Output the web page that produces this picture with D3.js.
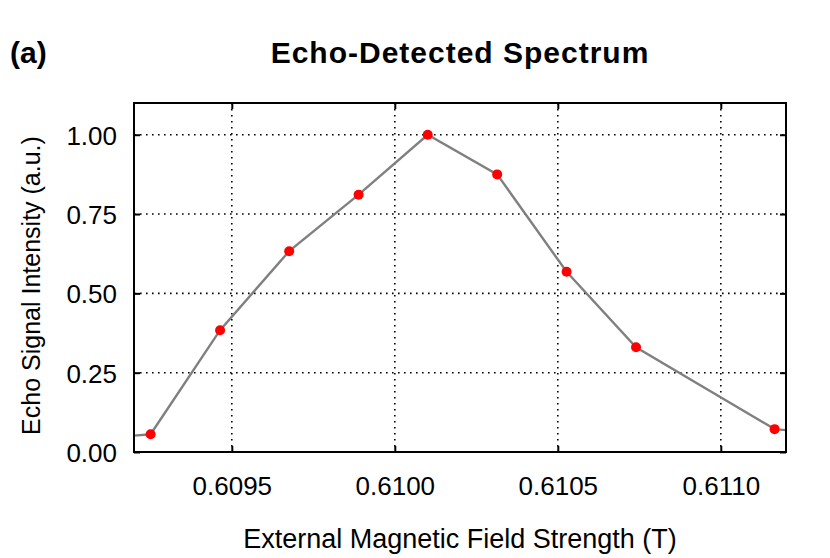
<!DOCTYPE html>
<html><head><meta charset="utf-8">
<script src="https://cdn.jsdelivr.net/npm/d3@7"></script>
<style>
body{margin:0;background:#fff;}
text{font-family:"Liberation Sans", Arial, sans-serif;fill:#000;}
</style></head>
<body>
<svg id="c" width="830" height="558"></svg>
<script>
// Data
const fieldT = [0.609038, 0.609251, 0.609464, 0.609676, 0.609889, 0.610101, 0.610314, 0.610527, 0.610740, 0.611165, 0.611378];
const intensity = [0.038, 0.056, 0.384, 0.633, 0.811, 1.000, 0.875, 0.568, 0.330, 0.072, 0.054];
const markerShown = [false, true, true, true, true, true, true, true, true, true, false];
const xTicks = [0.6095, 0.6100, 0.6105, 0.6110];
const yTicks = [0.00, 0.25, 0.50, 0.75, 1.00];
const xDomain = [0.6092, 0.6112];
const yDomain = [0, 1.1];
const title = "Echo-Detected Spectrum";
const panelLabel = "(a)";
const xLabel = "External Magnetic Field Strength (T)";
const yLabel = "Echo Signal Intensity (a.u.)";

const svg = d3.select("#c");
const m = {left:134, top:103, right:786, bottom:452};
const x = d3.scaleLinear().domain(xDomain).range([m.left, m.right]);
const y = d3.scaleLinear().domain(yDomain).range([m.bottom, m.top]);

svg.append("defs").append("clipPath").attr("id","clip")
  .append("rect").attr("x",m.left).attr("y",m.top).attr("width",m.right-m.left).attr("height",m.bottom-m.top);

// grid
const grid = svg.append("g");
grid.selectAll(".gx").data(xTicks).join("line")
  .attr("x1",d=>x(d)).attr("x2",d=>x(d)).attr("y1",m.top).attr("y2",m.bottom)
  .attr("stroke","#000").attr("stroke-width",1.6).attr("stroke-dasharray","1.6,4.4");
grid.selectAll(".gy").data(yTicks.filter(d=>d>0)).join("line")
  .attr("y1",d=>y(d)).attr("y2",d=>y(d)).attr("x1",m.left).attr("x2",m.right)
  .attr("stroke","#000").attr("stroke-width",1.6).attr("stroke-dasharray","1.6,4.4");

// axes with inward ticks
const fmtX = d3.format(".4f"), fmtY = d3.format(".2f");
const axB = svg.append("g").attr("transform",`translate(0,${m.bottom})`)
  .call(d3.axisBottom(x).tickValues(xTicks).tickFormat(fmtX).tickSizeInner(-6).tickSizeOuter(0).tickPadding(25));
const axT = svg.append("g").attr("transform",`translate(0,${m.top})`)
  .call(d3.axisTop(x).tickValues(xTicks).tickFormat("").tickSizeInner(-6).tickSizeOuter(0));
const axL = svg.append("g").attr("transform",`translate(${m.left},0)`)
  .call(d3.axisLeft(y).tickValues(yTicks).tickFormat(fmtY).tickSizeInner(-6).tickSizeOuter(0).tickPadding(17));
const axR = svg.append("g").attr("transform",`translate(${m.right},0)`)
  .call(d3.axisRight(y).tickValues(yTicks).tickFormat("").tickSizeInner(-6).tickSizeOuter(0));
[axB,axT,axL,axR].forEach(a=>{
  a.select(".domain").remove();
  a.selectAll(".tick line").attr("stroke","#000").attr("stroke-width",2);
  a.selectAll(".tick text").style("font-size","26px").attr("fill","#000");
});
axL.selectAll(".tick text").attr("dy","0.36em");

// line
svg.append("path").datum(fieldT.map((d,i)=>[d,intensity[i]]))
  .attr("clip-path","url(#clip)")
  .attr("d", d3.line().x(d=>x(d[0])).y(d=>y(d[1])))
  .attr("fill","none").attr("stroke","#808080").attr("stroke-width",2.4);

// points
svg.append("g").selectAll("circle")
  .data(fieldT.map((d,i)=>({x:d,y:intensity[i],s:markerShown[i]})).filter(d=>d.s))
  .join("circle").attr("cx",d=>x(d.x)).attr("cy",d=>y(d.y)).attr("r",5).attr("fill","#ff0000");

// frame
svg.append("rect").attr("x",m.left).attr("y",m.top).attr("width",m.right-m.left).attr("height",m.bottom-m.top)
  .attr("fill","none").attr("stroke","#000").attr("stroke-width",2);

// texts
svg.append("text").attr("x",(m.left+m.right)/2).attr("y",63).attr("text-anchor","middle")
  .style("font-size","30px").style("font-weight","bold").style("letter-spacing","1px").text(title);
svg.append("text").attr("x",10).attr("y",63).style("font-size","30px").style("font-weight","bold").text(panelLabel);
svg.append("text").attr("x",(m.left+m.right)/2).attr("y",548).attr("text-anchor","middle")
  .style("font-size","27px").text(xLabel);
svg.append("text").attr("transform",`translate(40,${(m.top+m.bottom)/2+8}) rotate(-90)`).attr("text-anchor","middle")
  .style("font-size","25px").text(yLabel);
</script>
</body></html>
